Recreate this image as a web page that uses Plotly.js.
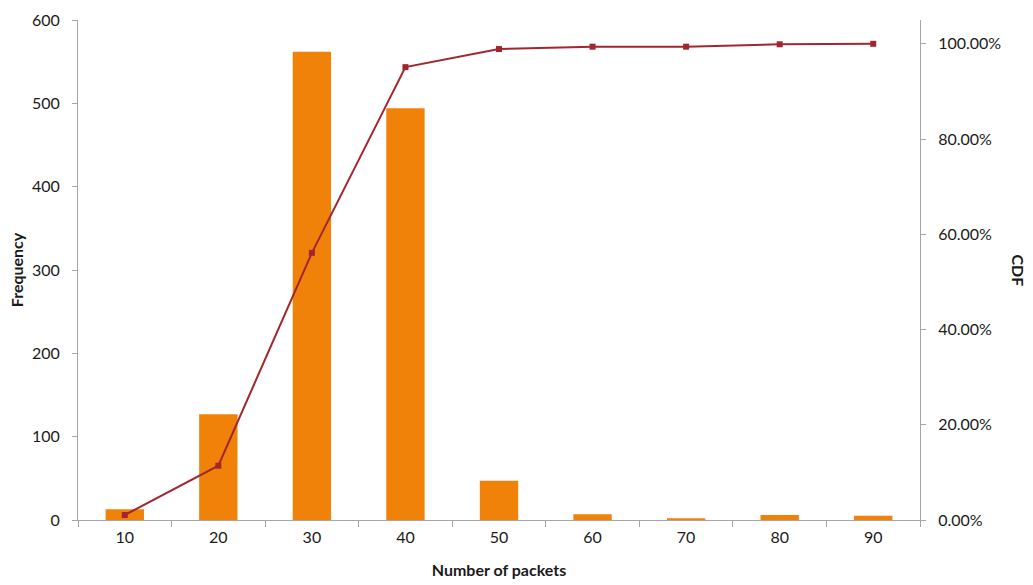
<!DOCTYPE html>
<html>
<head>
<meta charset="utf-8">
<script src="https://cdn.plot.ly/plotly-3.0.1.min.js"></script>
<style>
  html, body { margin: 0; padding: 0; background: #fff; }
  #chart { width: 1033px; height: 585px; }
</style>
</head>
<body>
<div id="chart"></div>
<script>
// Packet-count histogram with its cumulative distribution
const categories = ['10', '20', '30', '40', '50', '60', '70', '80', '90'];
const frequency = [13, 127, 562, 494, 47, 7, 2, 6, 5];
const cdf = [0.0105, 0.114, 0.561, 0.951, 0.989, 0.994, 0.994, 0.999, 1.0];
const cdfTicks = [0, 0.2, 0.4, 0.6, 0.8, 1.0];

const FONT = 'Lato, "Open Sans", sans-serif';
const AXIS_GRAY = '#a6a6a6';

const bars = {
  type: 'bar',
  x: categories,
  y: frequency,
  marker: { color: '#f0820a' },
  yaxis: 'y',
  hoverinfo: 'x+y'
};

const cdfLine = {
  type: 'scatter',
  mode: 'lines+markers',
  x: categories,
  y: cdf,
  yaxis: 'y2',
  line: { color: '#a3262f', width: 2 },
  marker: { color: '#a3262f', symbol: 'square', size: 6 }
};

const layout = {
  width: 1033,
  height: 585,
  margin: { l: 78, r: 113, t: 20, b: 65 },
  paper_bgcolor: '#ffffff',
  plot_bgcolor: '#ffffff',
  showlegend: false,
  bargap: 0.59,
  font: { family: FONT, size: 16, color: '#1a1a1a' },
  xaxis: {
    type: 'category',
    showline: true,
    linecolor: AXIS_GRAY,
    linewidth: 1,
    ticks: 'outside',
    tickson: 'boundaries',
    ticklen: 6,
    tickcolor: AXIS_GRAY,
    ticklabelstandoff: 3,
    showgrid: false,
    zeroline: false,
    tickfont: { family: FONT, size: 16 },
    title: { text: '<b>Number of packets</b>', font: { family: FONT, size: 16 }, standoff: 19 }
  },
  yaxis: {
    range: [0, 600],
    dtick: 100,
    showline: true,
    linecolor: AXIS_GRAY,
    ticks: 'outside',
    ticklen: 5,
    tickcolor: AXIS_GRAY,
    ticklabelstandoff: 9,
    showgrid: false,
    zeroline: false,
    tickfont: { family: FONT, size: 16 },
    title: { text: '<b>Frequency</b>', font: { family: FONT, size: 16 }, standoff: 4 }
  },
  yaxis2: {
    overlaying: 'y',
    side: 'right',
    range: [0, 1.05],
    tickvals: cdfTicks,
    tickformat: '.2%',
    showline: true,
    linecolor: AXIS_GRAY,
    ticks: 'outside',
    ticklen: 5,
    tickcolor: AXIS_GRAY,
    ticklabelstandoff: 9,
    showgrid: false,
    zeroline: false,
    tickfont: { family: FONT, size: 16 }
  },
  annotations: [{
    text: '<b>CDF</b>',
    xref: 'paper', yref: 'paper',
    x: 1.117, y: 0.5,
    xanchor: 'center', yanchor: 'middle',
    textangle: 90,
    showarrow: false,
    font: { family: FONT, size: 16, color: '#1a1a1a' }
  }]
};

Plotly.newPlot('chart', [bars, cdfLine], layout, { displayModeBar: false, staticPlot: true });
</script>
</body>
</html>
